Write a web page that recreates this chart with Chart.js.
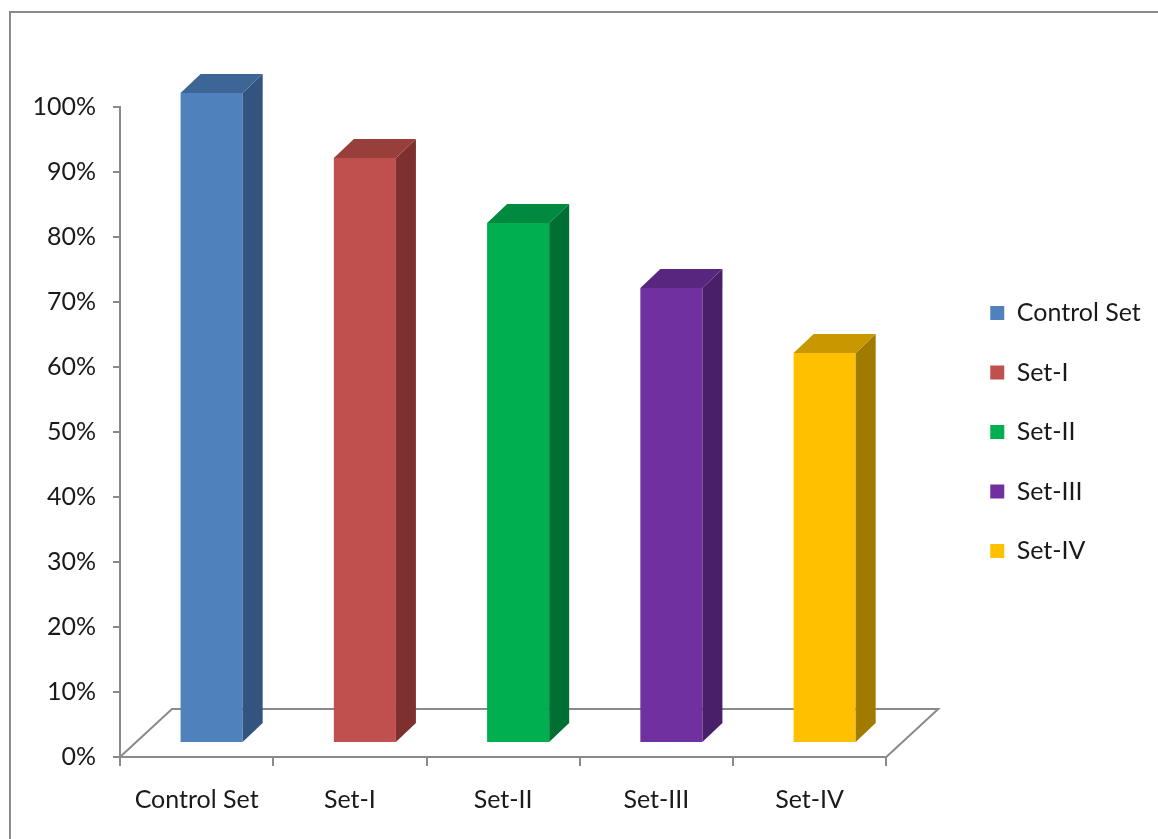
<!DOCTYPE html>
<html>
<head>
<meta charset="utf-8">
<title>Control Set vs Sets</title>
<script src="https://cdn.jsdelivr.net/npm/chart.js@4.4.1/dist/chart.umd.min.js"></script>
<style>
  html, body { margin: 0; padding: 0; background: #fff; width: 1158px; height: 839px; overflow: hidden; }
  #frame { position: absolute; left: 9px; top: 11px; width: 1240px; height: 900px; border: 2px solid #8a8a8a; box-sizing: border-box; }
  #c { position: absolute; left: 0; top: 0; }
</style>
</head>
<body>
<div id="frame"></div>
<canvas id="c" width="1158" height="839"></canvas>
<script>
// ---- data ----
const categories = ['Control Set', 'Set-I', 'Set-II', 'Set-III', 'Set-IV'];
const values = [100, 90, 80, 70, 60];
const yTickValues = [0, 10, 20, 30, 40, 50, 60, 70, 80, 90, 100];

// ---- colours: front face, top face, side face ----
const frontColors = ['#4F81BD', '#C0504D', '#00B050', '#7030A0', '#FFC000'];
const topColors   = ['#3D6697', '#983F3C', '#008A3F', '#59267F', '#C99800'];
const sideColors  = ['#32547E', '#7D302E', '#006F34', '#4A1F69', '#A17A00'];

const FONT = "Lato, sans-serif";
const TICK_SIZE = 25;
const LEG_SIZE = 25;

const TEXT = '#1a1a1a';
const AXIS = '#8a8a8a';
const LEG_BOX = 14;
const LEG_GAP = 59.5;                 // distance between legend rows
const LEG_PAD = LEG_GAP - LEG_SIZE;
const LEG_BOX_X = 990;                // left edge of the legend swatches

// perspective: floor depth, and where the columns sit inside that depth
const FLOOR_DX = 52, FLOOR_DY = 48;
const BAR_FX = 15, BAR_FY = 14;   // shift of the column front face
const BAR_DX = 20, BAR_DY = 19;   // column depth

const PLOT_RIGHT = 886;
let padRight = 0;

const depthPlugin = {
  id: 'depth3d',
  beforeDatasetsDraw(chart) {
    const { ctx, chartArea: a } = chart;
    ctx.save();
    ctx.strokeStyle = AXIS;
    ctx.lineWidth = 2;
    ctx.beginPath();
    ctx.moveTo(a.left, a.bottom);
    ctx.lineTo(a.left + FLOOR_DX, a.bottom - FLOOR_DY);
    ctx.lineTo(a.right + FLOOR_DX, a.bottom - FLOOR_DY);
    ctx.lineTo(a.right, a.bottom);
    ctx.stroke();
    ctx.restore();
  },
  beforeDatasetDraw(chart) {
    chart.ctx.save();
    chart.ctx.translate(BAR_FX, -BAR_FY);
  },
  afterDatasetDraw(chart, args) {
    const ctx = chart.ctx;
    const meta = chart.getDatasetMeta(args.index);
    meta.data.forEach((el, i) => {
      const p = el.getProps(['x', 'y', 'base', 'width'], true);
      const l = p.x - p.width / 2, r = p.x + p.width / 2, t = p.y, b = p.base;
      // side face
      ctx.fillStyle = sideColors[i];
      ctx.beginPath();
      ctx.moveTo(r, t);
      ctx.lineTo(r + BAR_DX, t - BAR_DY);
      ctx.lineTo(r + BAR_DX, b - BAR_DY);
      ctx.lineTo(r, b);
      ctx.closePath();
      ctx.fill();
      // top face
      ctx.fillStyle = topColors[i];
      ctx.beginPath();
      ctx.moveTo(l, t);
      ctx.lineTo(l + BAR_DX, t - BAR_DY);
      ctx.lineTo(r + BAR_DX, t - BAR_DY);
      ctx.lineTo(r, t);
      ctx.closePath();
      ctx.fill();
    });
    ctx.restore();
  }
};

const chart = new Chart(document.getElementById('c'), {
  type: 'bar',
  data: {
    labels: categories,
    datasets: [{
      data: values,
      backgroundColor: frontColors,
      borderWidth: 0,
      barPercentage: 0.405,
      categoryPercentage: 1,
      clip: false
    }]
  },
  options: {
    responsive: false,
    animation: false,
    devicePixelRatio: 1,
    layout: { padding: { left: 0, top: 107, right: padRight, bottom: 0 } },
    plugins: {
      tooltip: { enabled: false },
      legend: {
        position: 'right',
        align: 'center',
        fullSize: false,
        onClick: null,
        labels: {
          font: { family: FONT, size: LEG_SIZE },
          color: TEXT,
          boxWidth: LEG_BOX,
          boxHeight: LEG_BOX,
          padding: LEG_PAD,
          generateLabels: () => categories.map((c, i) => ({
            text: c, fillStyle: frontColors[i], strokeStyle: frontColors[i],
            lineWidth: 0, hidden: false, index: i, fontColor: TEXT
          }))
        }
      }
    },
    scales: {
      x: {
        grid: { drawOnChartArea: false, offset: true, tickLength: 9, color: AXIS, lineWidth: 2 },
        border: { color: AXIS, width: 2 },
        ticks: { font: { family: FONT, size: TICK_SIZE }, color: TEXT, padding: 19, maxRotation: 0 },
        afterFit(s) { s.height = 82; }
      },
      y: {
        min: 0, max: 100,
        grid: { drawOnChartArea: false, tickLength: 7, color: AXIS, lineWidth: 2 },
        border: { color: AXIS, width: 2 },
        ticks: { font: { family: FONT, size: TICK_SIZE }, color: TEXT, padding: 17, callback: v => v + '%' },
        afterBuildTicks(s) { s.ticks = yTickValues.map(v => ({ value: v })); },
        afterFit(s) { s.width = 120; }
      },
      gap: {
        type: 'linear', position: 'right', display: true,
        grid: { display: false }, border: { display: false }, ticks: { display: false },
        afterFit(s) { s.width = LEG_BOX_X - LEG_PAD - PLOT_RIGHT; }
      }
    }
  },
  plugins: [depthPlugin]
});

// move the legend block so its swatches start at LEG_BOX_X
for (let k = 0; k < 3; k++) {
  const err = chart.legend.left + LEG_PAD - LEG_BOX_X;
  if (Math.abs(err) < 0.5) break;
  padRight += err;
  chart.options.layout.padding.right = padRight;
  chart.update();
}
</script>
</body>
</html>
